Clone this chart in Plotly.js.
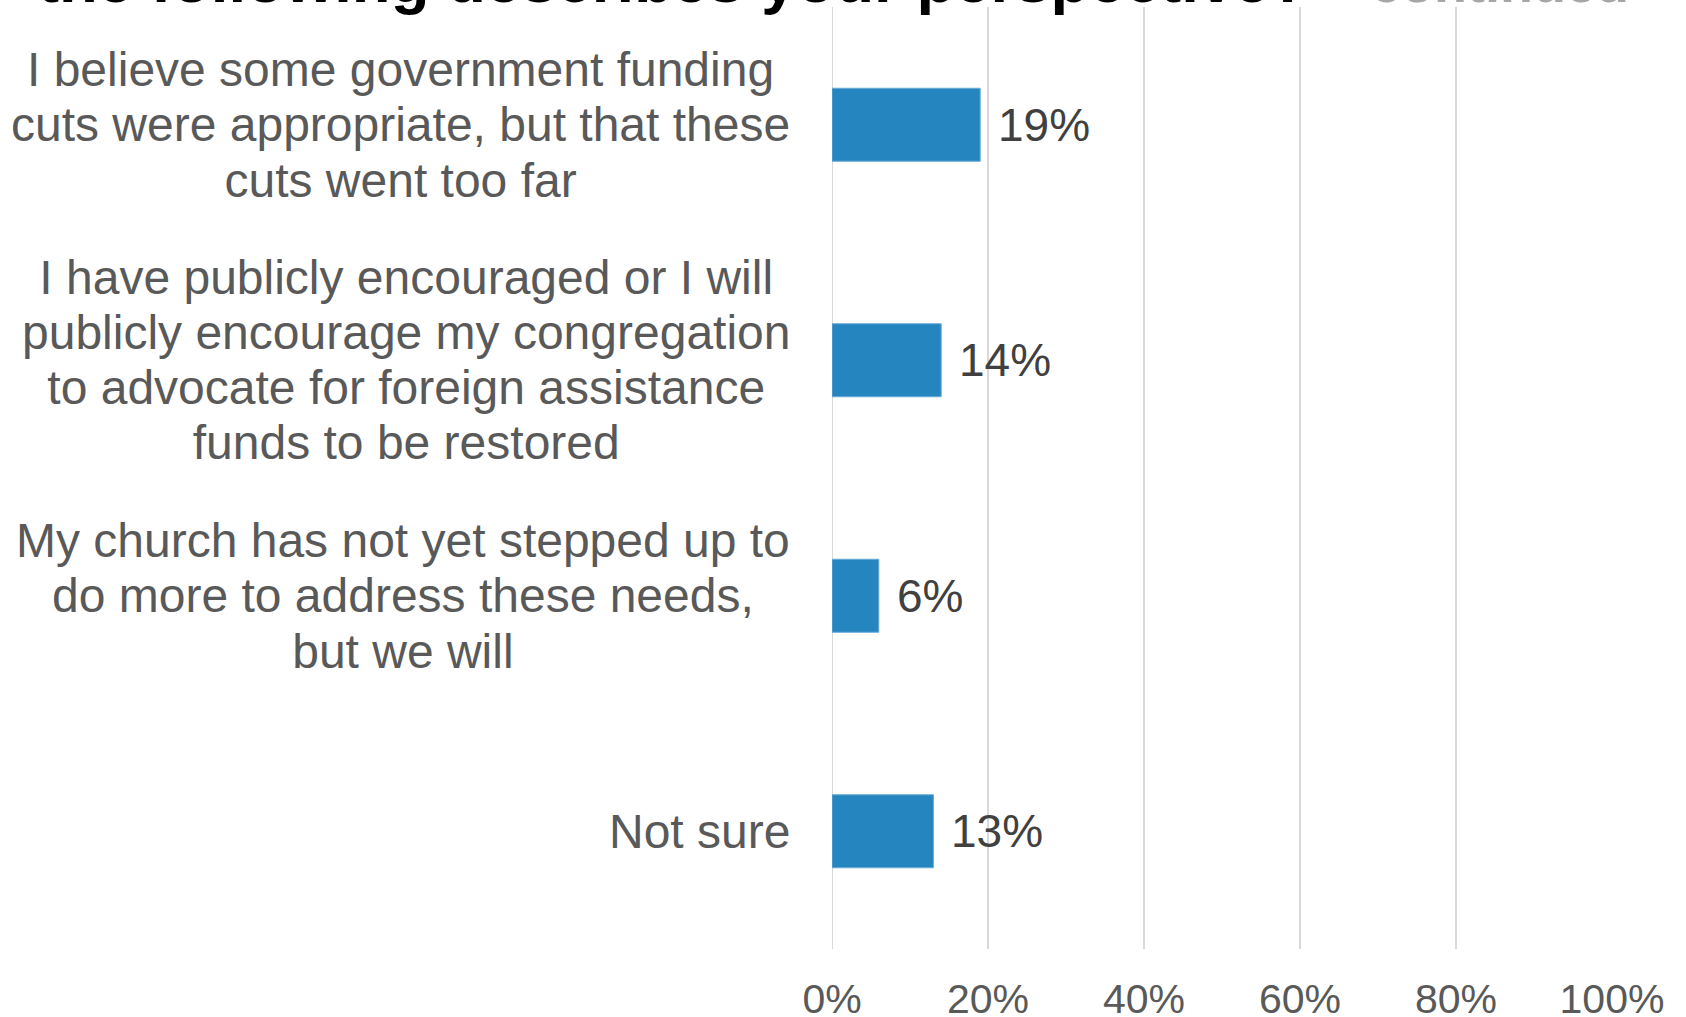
<!DOCTYPE html>
<html>
<head>
<meta charset="utf-8">
<script src="https://cdn.plot.ly/plotly-3.0.1.min.js"></script>
<style>html,body{margin:0;padding:0;background:#fff;}#chart{width:1686px;height:1017px;}</style>
</head>
<body>
<div id="chart"></div>
<script>
const categories = [
  "I believe some government funding<br>cuts were appropriate, but that these<br>cuts went too far",
  "I have publicly encouraged or I will<br>publicly encourage my congregation<br>to advocate for foreign assistance<br>funds to be restored",
  "My church has not yet stepped up to<br>do more to address these needs,<br>but we will",
  "Not sure"
];
const values = [0.19, 0.14, 0.06, 0.13];
const tickVals = [0, 0.2, 0.4, 0.6, 0.8, 1.0];
const tickText = ["0%", "20%", "40%", "60%", "80%", "100%"];
const titleMain = "the following describes your perspective?";
const titleSuffix = "– continued";

const FONT = '"Liberation Sans", Arial, sans-serif';

const trace = {
  type: 'bar',
  orientation: 'h',
  x: values,
  y: categories,
  marker: {color: '#2585BF', line: {color: '#6AAAD6', width: 1}},
  hoverinfo: 'skip'
};

const annotations = [];
categories.forEach((c, i) => {
  annotations.push({
    xref: 'paper', yref: 'y', x: 0, y: c, xanchor: 'right', yanchor: 'middle',
    xshift: -40, text: c, align: 'center', showarrow: false,
    font: {family: FONT, size: 48, color: '#595959'}
  });
  annotations.push({
    xref: 'x', yref: 'y', x: values[i], y: c, xanchor: 'left', yanchor: 'middle',
    xshift: 16, text: Math.round(values[i] * 100) + '%', showarrow: false,
    font: {family: FONT, size: 46, color: '#404040'}
  });
});

const layout = {
  width: 1686, height: 1017,
  margin: {l: 832, r: 74, t: 7, b: 68, pad: 0},
  paper_bgcolor: '#fff', plot_bgcolor: '#fff',
  showlegend: false,
  bargap: 0.69,
  title: {
    text: '<b>' + titleMain + ' <span style="color:#A6A6A6;font-size:54px">' + titleSuffix + '</span></b>',
    x: 0.0225, xanchor: 'left', xref: 'container',
    y: 0.998, yanchor: 'bottom', yref: 'container',
    font: {family: FONT, size: 63.5, color: '#000'}
  },
  xaxis: {
    range: [0, 1], tickvals: tickVals, ticktext: tickText,
    showgrid: true, gridcolor: '#D9D9D9', gridwidth: 2,
    zeroline: false, showline: false, ticks: '',
    ticklabelstandoff: 22,
    tickfont: {family: FONT, size: 41, color: '#595959'},
    fixedrange: true
  },
  yaxis: {
    type: 'category', categoryorder: 'array', categoryarray: categories,
    autorange: 'reversed', showticklabels: false, showgrid: false,
    zeroline: false, showline: false, ticks: '', fixedrange: true
  },
  shapes: [{type: 'line', xref: 'x', yref: 'paper', x0: 0, x1: 0, y0: 0, y1: 1,
            line: {color: '#D9D9D9', width: 2}, layer: 'below'}],
  annotations: annotations
};

Plotly.newPlot('chart', [trace], layout, {displayModeBar: false, staticPlot: true}).then(gd => {
  // tighten line spacing of the multi-line category labels (Excel-like ~1.15)
  const LS = 1.15;
  gd.querySelectorAll('text.annotation-text').forEach(t => {
    const lines = t.querySelectorAll('tspan.line');
    if (lines.length < 2) return;
    const fs = parseFloat(t.style.fontSize) || 48;
    const shift = (lines.length - 1) * (1.3 - LS) * fs / 2;
    lines.forEach((ln, i) => {
      ln.setAttribute('dy', (i * LS) + 'em');
      const y = parseFloat(ln.getAttribute('y')) || 0;
      ln.setAttribute('y', y + shift);
    });
  });
});
</script>
</body>
</html>
